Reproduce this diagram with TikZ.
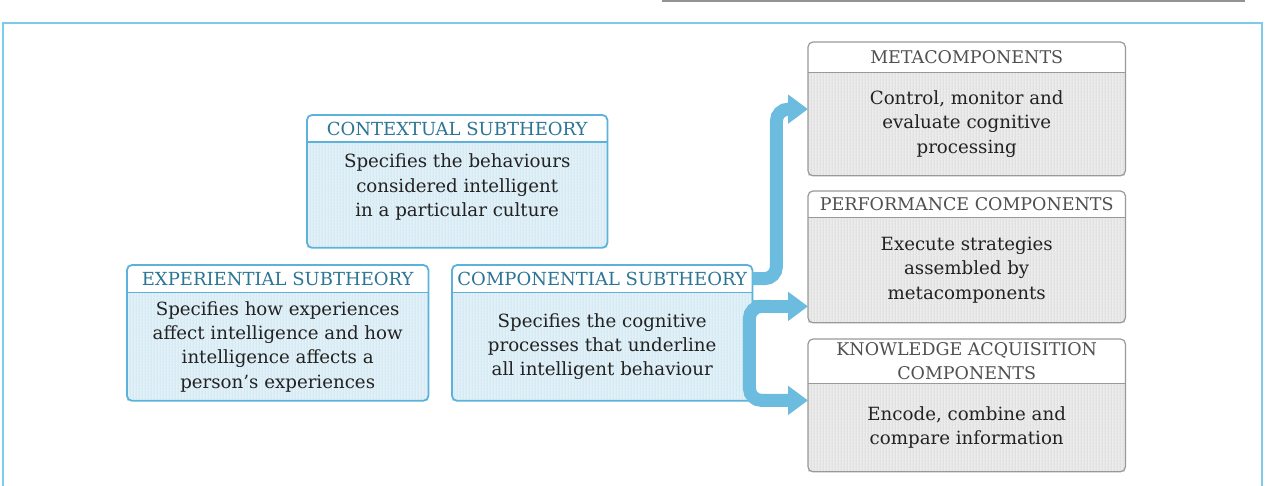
\documentclass[tikz,border=0pt]{standalone}
\usepackage{fontspec}
\setmainfont{DejaVu Serif}
\usetikzlibrary{arrows.meta,patterns.meta}
\definecolor{frameblue}{HTML}{7CCBEA}
\definecolor{arrowblue}{HTML}{6CBCE0}
\definecolor{blueline}{HTML}{5CB2DA}
\definecolor{bluefill}{HTML}{E2F1F8}
\definecolor{bluestripe}{HTML}{BFDDEC}
\definecolor{bluetext}{HTML}{2C7596}
\definecolor{grayline}{HTML}{999999}
\definecolor{grayfill}{HTML}{ECECEC}
\definecolor{graystripe}{HTML}{CBCBCB}
\definecolor{graytext}{HTML}{505050}
\definecolor{bodytext}{HTML}{222222}
\pgfdeclarepattern{
  name=vstripes,
  type=uncolored,
  bottom left={\pgfpoint{0pt}{0pt}},
  top right={\pgfpoint{3pt}{3pt}},
  tile size={\pgfpoint{3pt}{3pt}},
  code={
    \pgfsetlinewidth{0.9pt}
    \pgfpathmoveto{\pgfpoint{1.5pt}{-0.5pt}}
    \pgfpathlineto{\pgfpoint{1.5pt}{3.5pt}}
    \pgfusepathqstroke
  }
}
\tikzset{
  bluebord/.style={draw=blueline, line width=1.8pt},
  graybord/.style={draw=grayline, line width=1.2pt},
  hdr/.style={anchor=north west, inner sep=0pt, align=center, fill=white},
  bluehdr/.style={hdr, text=bluetext, font=\fontsize{18}{24}\selectfont},
  grayhdr/.style={hdr, text=graytext, font=\fontsize{17.5}{24}\selectfont},
  bodyb/.style={anchor=north, inner sep=0pt, align=center, text=bodytext,
    font=\fontsize{18.2}{24.4}\selectfont},
  bluebody/.style={bodyb, fill=bluefill, postaction={pattern=vstripes, pattern color=bluestripe}},
  graybody/.style={bodyb, fill=grayfill, postaction={pattern=vstripes, pattern color=graystripe}},
  bigarrow/.style={draw=arrowblue, line width=13pt,
    -{Triangle[length=20pt,width=28pt]}, rounded corners=12pt}
}
\newcommand{\boxdeco}[3]{%
  \draw[#3bord, rounded corners=5pt] (#1.north west) rectangle (#2.south east);
  \draw[#3bord] (#1.south west) -- (#1.south east);
}
\begin{document}
\begin{tikzpicture}[x=1pt,y=-1pt]
\useasboundingbox (0,0) rectangle (1273,486);
% page fragments
\draw[gray!85, line width=2pt] (662,1) -- (1245,1);
\draw[frameblue, line width=2.5pt] (3,486) -- (3,23) -- (1262,23) -- (1262,486);

% contextual
\node[bluehdr, minimum width=300pt, minimum height=27pt] (ctxh) at (307,115) {CONTEXTUAL SUBTHEORY};
\node[bluebody, minimum width=300pt, minimum height=105pt] (ctxb) at (ctxh.south) {Specifies the behaviours\\considered intelligent\\in a particular culture\\[-5pt]};
\boxdeco{ctxh}{ctxb}{blue}

% experiential
\node[bluehdr, minimum width=301pt, minimum height=27pt] (exph) at (127,265) {EXPERIENTIAL SUBTHEORY};
\node[bluebody, minimum width=301pt, minimum height=108pt] (expb) at (exph.south) {Specifies how experiences\\affect intelligence and how\\intelligence affects a\\person's experiences};
\boxdeco{exph}{expb}{blue}

% componential
\node[bluehdr, minimum width=300pt, minimum height=27pt] (comph) at (452,265) {COMPONENTIAL SUBTHEORY};
\node[bluebody, minimum width=300pt, minimum height=108pt] (compb) at (comph.south) {Specifies the cognitive\\processes that underline\\all intelligent behaviour};
\boxdeco{comph}{compb}{blue}

% metacomponents
\node[grayhdr, minimum width=317pt, minimum height=30pt] (metah) at (808,42) {METACOMPONENTS};
\node[graybody, minimum width=317pt, minimum height=103pt] (metab) at (metah.south) {Control, monitor and\\evaluate cognitive\\processing};
\boxdeco{metah}{metab}{gray}

% performance
\node[grayhdr, minimum width=317pt, minimum height=26pt] (perfh) at (808,191) {PERFORMANCE COMPONENTS};
\node[graybody, minimum width=317pt, minimum height=105pt] (perfb) at (perfh.south) {Execute strategies\\assembled by\\metacomponents};
\boxdeco{perfh}{perfb}{gray}

% knowledge acquisition
\node[grayhdr, minimum width=317pt, minimum height=44pt] (knowh) at (808,339) {KNOWLEDGE ACQUISITION\\COMPONENTS};
\node[graybody, minimum width=317pt, minimum height=88pt] (knowb) at (knowh.south) {Encode, combine and\\compare information};
\boxdeco{knowh}{knowb}{gray}

% arrows
\draw[bigarrow] (comph.east) -- ++(24,0) |- ([yshift=15pt]metab.west);
\draw[bigarrow] ([yshift=-14pt]compb.north east) coordinate (a2) -- (a2 -| perfb.west);
\draw[bigarrow] ([xshift=18pt]a2) -- ([xshift=-3pt]a2) |- ([yshift=-17pt]knowh.south west);
\end{tikzpicture}
\end{document}
